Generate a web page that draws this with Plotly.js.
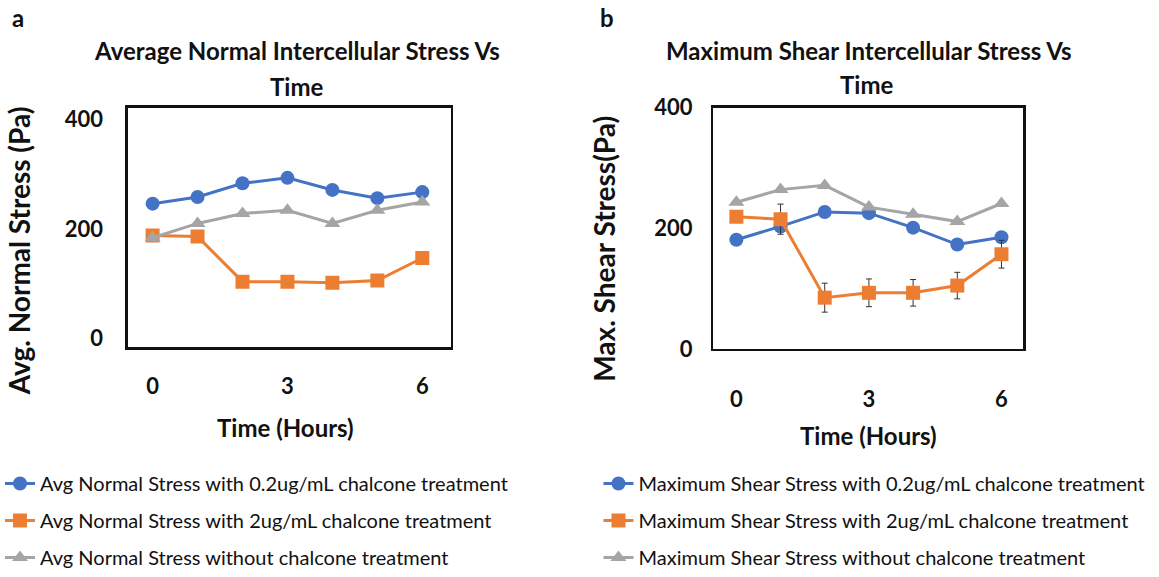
<!DOCTYPE html>
<html>
<head>
<meta charset="utf-8">
<script src="https://cdn.plot.ly/plotly-3.0.1.min.js"></script>
<style>
  html, body { margin: 0; padding: 0; background: #ffffff; }
  #chart { width: 1159px; height: 577px; }
</style>
</head>
<body>
<div id="chart"></div>
<script>
// Time points (hours)
const hours = [0, 1, 2, 3, 4, 5, 6];
const xTicks = [0, 3, 6];
const yTicks = [0, 200, 400];

// Panel a: average normal intercellular stress (Pa)
const normalLow  = [246, 258, 283, 293, 271, 256, 267];
const normalHigh = [188, 186, 104, 104, 102, 106, 147];
const normalNone = [184, 210, 228, 234, 210, 234, 249];

// Panel b: maximum shear intercellular stress (Pa)
const shearLow     = [181, 203, 227, 225, 201, 173, 185];
const shearHigh    = [219, 215, 85, 93, 93, 105, 157];
const shearHighErr = [8, 25, 24, 23, 22, 22, 23];
const shearNone    = [243, 264, 271, 235, 223, 211, 241];

const namesA = [
  'Avg Normal Stress with 0.2ug/mL chalcone treatment',
  'Avg Normal Stress with 2ug/mL chalcone treatment',
  'Avg Normal Stress without chalcone treatment'
];
const namesB = [
  'Maximum Shear Stress with 0.2ug/mL chalcone treatment',
  'Maximum Shear Stress with 2ug/mL chalcone treatment',
  'Maximum Shear Stress without chalcone treatment'
];

const BLUE = '#4472C4', ORANGE = '#ED7D31', GRAY = '#A5A5A5';
const FONT = 'Lato, "DejaVu Sans", sans-serif';
const W = 1159, H = 577;
const px = v => v / W;
const py = v => 1 - v / H;

function series(x, y, name, color, symbol, axes, legend, group, err) {
  const t = {
    x: x, y: y, name: name, type: 'scatter', mode: 'lines+markers',
    line: { color: color, width: 3 },
    marker: { color: color, size: 14, symbol: symbol },
    xaxis: axes[0], yaxis: axes[1], legend: legend, legendgroup: group
  };
  if (err) {
    t.error_y = { type: 'data', array: err, visible: true, color: '#333333', thickness: 1, width: 3 };
  }
  return t;
}

const data = [
  series(hours, normalLow,  namesA[0], BLUE,   'circle',      ['x', 'y'], 'legend', 'a1'),
  series(hours, normalHigh, namesA[1], ORANGE, 'square',      ['x', 'y'], 'legend', 'a2'),
  series(hours, normalNone, namesA[2], GRAY,   'triangle-up', ['x', 'y'], 'legend', 'a3'),
  series(hours, shearLow,   namesB[0], BLUE,   'circle',      ['x2', 'y2'], 'legend2', 'b1'),
  series(hours, shearHigh,  namesB[1], ORANGE, 'square',      ['x2', 'y2'], 'legend2', 'b2', shearHighErr),
  series(hours, shearNone,  namesB[2], GRAY,   'triangle-up', ['x2', 'y2'], 'legend2', 'b3')
];

const tickFont = { family: FONT, size: 22, color: '#111111', weight: 'bold' };
const boxAxis = {
  showline: true, mirror: 'all', linecolor: '#111111', linewidth: 2.5,
  showgrid: false, zeroline: false, ticks: '', tickfont: tickFont, fixedrange: true
};

const legendStyle = {
  orientation: 'v', xanchor: 'left', yanchor: 'top',
  font: { family: FONT, size: 20, color: '#111111' },
  bgcolor: 'rgba(0,0,0,0)', tracegroupgap: 8, itemwidth: 30
};

function text(t, x, y, size, extra) {
  return Object.assign({
    text: t, x: px(x), y: py(y), xref: 'paper', yref: 'paper',
    showarrow: false, xanchor: 'center', yanchor: 'middle',
    font: { family: FONT, size: size, color: '#111111', weight: 'bold' }
  }, extra || {});
}

const layout = {
  width: W, height: H,
  margin: { l: 0, r: 0, t: 0, b: 0 },
  paper_bgcolor: '#ffffff', plot_bgcolor: '#ffffff',
  showlegend: true,
  xaxis: Object.assign({}, boxAxis, {
    domain: [px(127), px(450)], range: [-0.55, 6.63], tickvals: xTicks,
    anchor: 'y', ticklabelstandoff: 18
  }),
  yaxis: Object.assign({}, boxAxis, {
    domain: [py(355), py(110)], range: [-15, 421], tickvals: yTicks,
    anchor: 'x', ticklabelstandoff: 18
  }),
  xaxis2: Object.assign({}, boxAxis, {
    domain: [px(713), px(1023)], range: [-0.52, 6.49], tickvals: xTicks,
    anchor: 'y2', ticklabelstandoff: 29
  }),
  yaxis2: Object.assign({}, boxAxis, {
    domain: [py(357), py(110)], range: [0, 400], tickvals: yTicks,
    anchor: 'x2', ticklabelstandoff: 14
  }),
  legend: Object.assign({}, legendStyle, { x: px(-1), y: py(475) }),
  legend2: Object.assign({}, legendStyle, { x: px(598), y: py(475) }),
  annotations: [
    text('a', 17, 18, 24),
    text('b', 607, 18, 24),
    text('Average Normal Intercellular Stress Vs', 296, 52, 24),
    text('Time', 296, 88, 24),
    text('Maximum Shear Intercellular Stress Vs', 869, 52, 24),
    text('Time', 866, 86, 24),
    text('Time (Hours)', 285, 437, 24),
    text('Time (Hours)', 868, 446, 24),
    text('Avg. Normal Stress (Pa)', 18, 256, 28, { textangle: -90 }),
    text('Max. Shear Stress(Pa)', 604, 254, 28, { textangle: -90 })
  ]
};

Plotly.newPlot('chart', data, layout, { staticPlot: true, displayModeBar: false });
</script>
</body>
</html>
